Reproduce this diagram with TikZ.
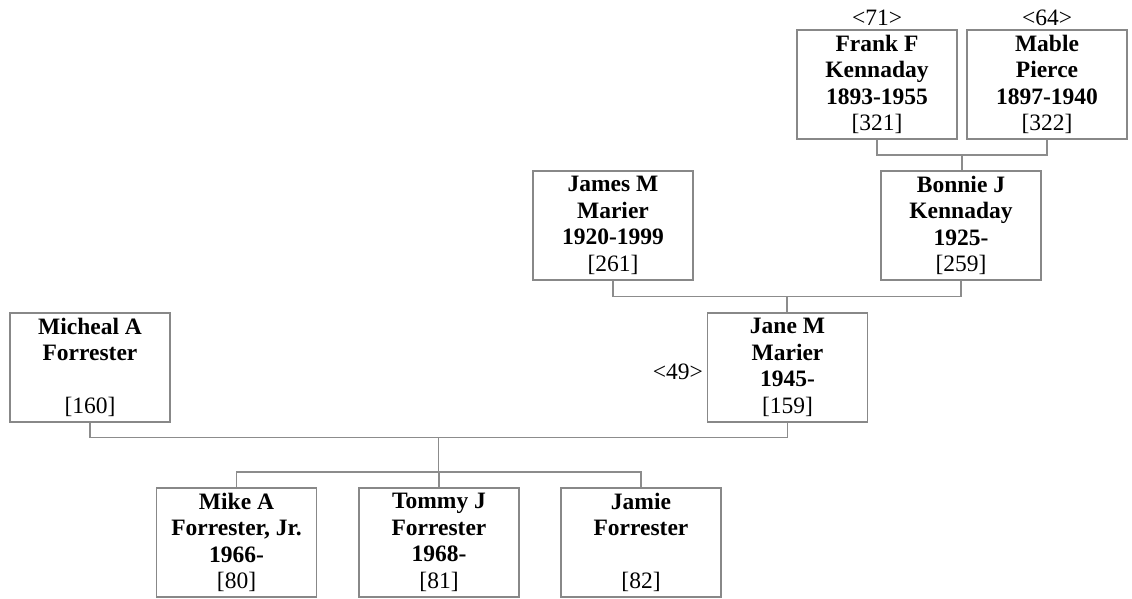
\documentclass[tikz,border=0pt]{standalone}
\usepackage{fontspec}
\setmainfont{Liberation Serif}
\definecolor{boxgray}{RGB}{136,136,136}
\definecolor{linegray}{RGB}{140,140,140}
\tikzset{
  person/.style={draw=boxgray, line width=1.1pt, fill=white, minimum width=160pt, minimum height=109pt,
    inner sep=0pt, align=center, font=\fontsize{23.5}{26.5}\selectfont},
  tag/.style={inner sep=0pt, font=\fontsize{23.5}{26.5}\selectfont},
  link/.style={draw=linegray, line width=1.1pt}
}
\begin{document}
\begin{tikzpicture}[x=1pt,y=-1pt]
\useasboundingbox (0,0) rectangle (1132,599);
% row 1
\node[person] (frank) at (877,84.5) {\textbf{Frank F}\\\textbf{Kennaday}\\\textbf{1893-1955}\\{[321]}};
\node[person] (mable) at (1047,84.5) {\textbf{Mable}\\\textbf{Pierce}\\\textbf{1897-1940}\\{[322]}};
\node[tag] (t71) at (877,18) {<71>};
\node[tag] (t64) at (1047,18) {<64>};
% row 2
\node[person] (james) at (613,225.5) {\textbf{James M}\\\textbf{Marier}\\\textbf{1920-1999}\\{[261]}};
\node[person] (bonnie) at (961,225.5) {\textbf{Bonnie J}\\\textbf{Kennaday}\\\textbf{1925-}\\{[259]}};
% row 3
\node[person] (micheal) at (90,367.5) {\textbf{Micheal A}\\\textbf{Forrester}\\\mbox{}\\{[160]}};
\node[person] (jane) at (787.5,367.5) {\textbf{Jane M}\\\textbf{Marier}\\\textbf{1945-}\\{[159]}};
\node[tag, anchor=east] (t49) at (703,372) {<49>};
% row 4
\node[person] (mike) at (236.5,542.5) {\textbf{Mike A}\\\textbf{Forrester, Jr.}\\\textbf{1966-}\\{[80]}};
\node[person] (tommy) at (439,542.5) {\textbf{Tommy J}\\\textbf{Forrester}\\\textbf{1968-}\\{[81]}};
\node[person] (jamie) at (641,542.5) {\textbf{Jamie}\\\textbf{Forrester}\\\mbox{}\\{[82]}};
% junctions
\coordinate (fm) at (962,155);
\coordinate (jb) at (787,296.5);
\coordinate (mj) at (438.5,437.5);
\coordinate (kids) at (438.5,472);
% connectors
\draw[link] (frank.south) |- (fm) -| (mable.south);
\draw[link] (fm) -- (fm |- bonnie.north);
\draw[link] (james.south) |- (jb) -| (bonnie.south);
\draw[link] (jb) -- (jb |- jane.north);
\draw[link] (micheal.south) |- (mj) -| (jane.south);
\draw[link] (mj) -- (kids);
\draw[link] (mike.north) |- (kids) -| (jamie.north);
\draw[link] (kids) -- (kids -| tommy.north) -- (tommy.north);
\end{tikzpicture}
\end{document}
